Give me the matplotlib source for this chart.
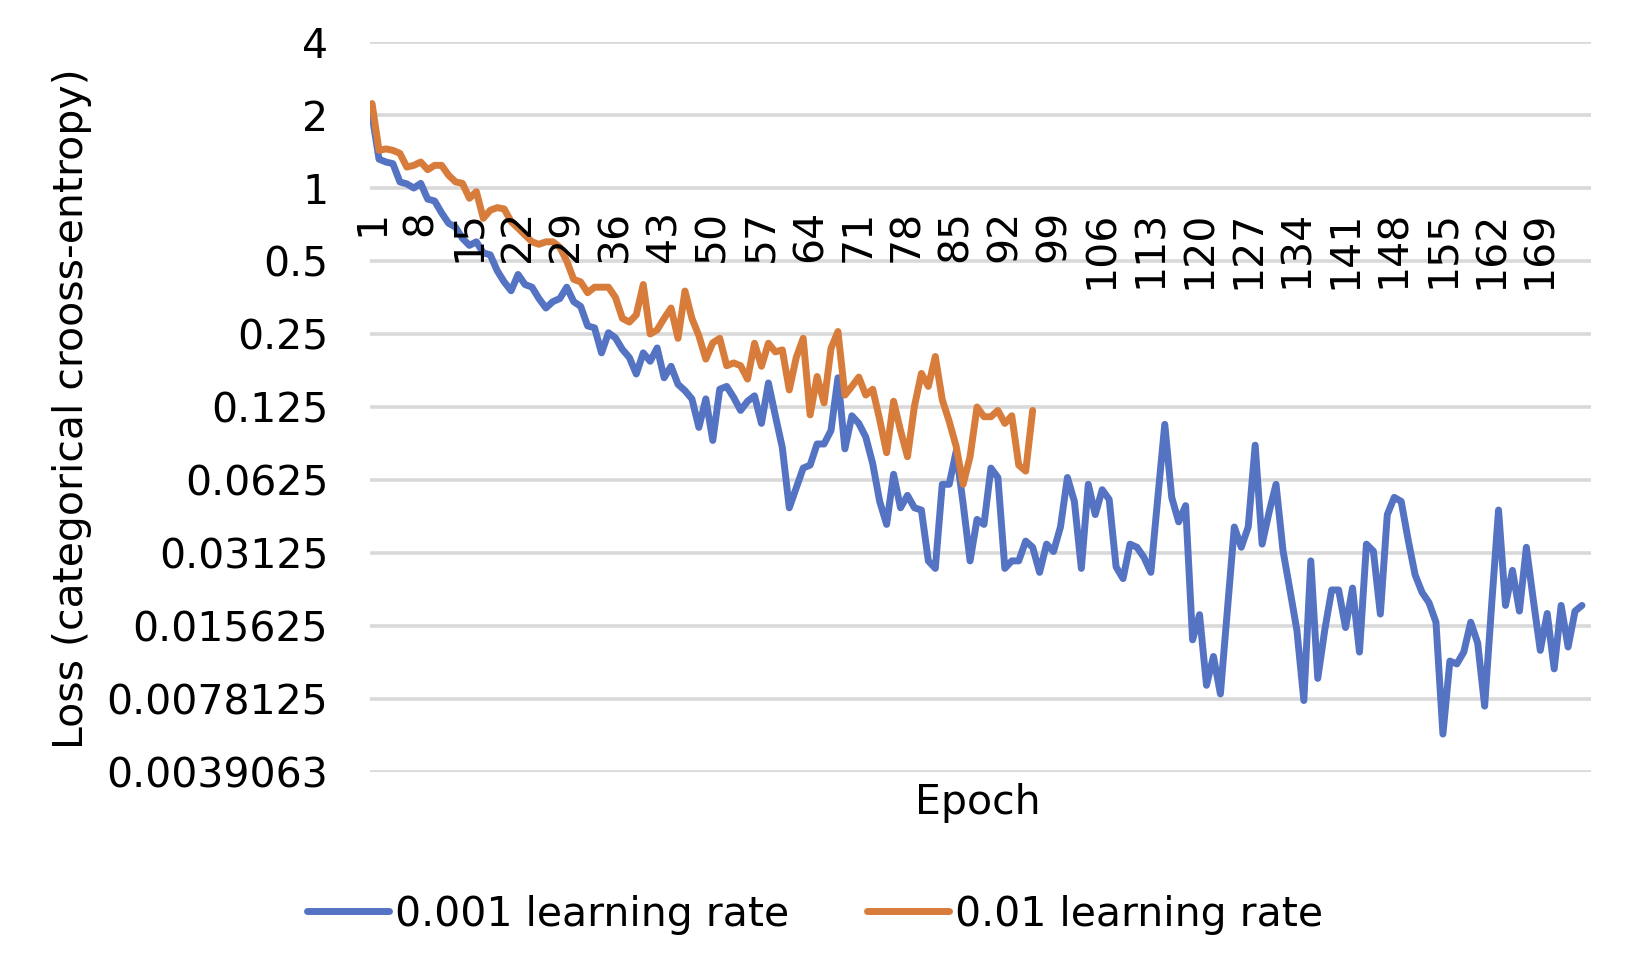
import matplotlib
matplotlib.use("Agg")
import matplotlib.pyplot as plt
import numpy as np

# loss per epoch
LOSS_LR_0001 = [
    2.0, 1.315, 1.28, 1.26, 1.06, 1.04, 1.0, 1.045, 0.90, 0.884,
    0.79, 0.716, 0.69, 0.62, 0.58, 0.60, 0.54, 0.53, 0.456, 0.41,
    0.377, 0.44, 0.40, 0.39, 0.35, 0.32, 0.34, 0.35, 0.39, 0.34,
    0.325, 0.27, 0.265, 0.209, 0.253, 0.241, 0.216, 0.20, 0.171, 0.209,
    0.193, 0.219, 0.165, 0.184, 0.155, 0.146, 0.135, 0.103, 0.135, 0.091,
    0.148, 0.152, 0.137, 0.121, 0.132, 0.139, 0.107, 0.157, 0.115, 0.085,
    0.048, 0.058, 0.070, 0.072, 0.088, 0.088, 0.10, 0.165, 0.084, 0.115,
    0.107, 0.094, 0.073, 0.051, 0.041, 0.066, 0.048, 0.054, 0.048, 0.047,
    0.029, 0.027, 0.060, 0.060, 0.082, 0.050, 0.029, 0.043, 0.041, 0.070,
    0.064, 0.027, 0.029, 0.029, 0.035, 0.033, 0.026, 0.034, 0.0317, 0.040,
    0.064, 0.051, 0.027, 0.060, 0.045, 0.057, 0.052, 0.0274, 0.0245, 0.034,
    0.033, 0.030, 0.026, 0.053, 0.106, 0.053, 0.042, 0.049, 0.0137, 0.0174,
    0.0089, 0.0117, 0.0082, 0.018, 0.040, 0.033, 0.040, 0.087, 0.034, 0.046,
    0.060, 0.032, 0.022, 0.015, 0.0077, 0.029, 0.0095, 0.015, 0.022, 0.022,
    0.0154, 0.0224, 0.0122, 0.034, 0.0318, 0.0175, 0.045, 0.053, 0.051, 0.0354,
    0.0254, 0.0215, 0.0195, 0.0162, 0.0056, 0.0112, 0.0109, 0.0122, 0.0162, 0.0133,
    0.0073, 0.019, 0.047, 0.019, 0.0265, 0.018, 0.033, 0.020, 0.0124, 0.0176,
    0.0104, 0.019, 0.0128, 0.018, 0.019,
]

LOSS_LR_001 = [
    2.23, 1.43, 1.45, 1.43, 1.39, 1.22, 1.24, 1.28, 1.19, 1.24,
    1.24, 1.13, 1.06, 1.045, 0.907, 0.966, 0.75, 0.81, 0.83, 0.82,
    0.727, 0.683, 0.64, 0.60, 0.586, 0.60, 0.60, 0.57, 0.50, 0.42,
    0.41, 0.37, 0.39, 0.39, 0.39, 0.354, 0.29, 0.28, 0.30, 0.40,
    0.25, 0.26, 0.29, 0.32, 0.24, 0.376, 0.29, 0.246, 0.197, 0.23,
    0.24, 0.185, 0.19, 0.185, 0.163, 0.229, 0.184, 0.229, 0.211, 0.215,
    0.147, 0.20, 0.24, 0.116, 0.167, 0.13, 0.218, 0.256, 0.14, 0.152,
    0.166, 0.14, 0.148, 0.111, 0.081, 0.132, 0.10, 0.078, 0.126, 0.172,
    0.152, 0.202, 0.134, 0.109, 0.086, 0.060, 0.078, 0.125, 0.114, 0.114,
    0.121, 0.107, 0.115, 0.072, 0.068, 0.121,
]

SERIES_NAMES = ["0.001 learning rate", "0.01 learning rate"]
SERIES_COLORS = ["#5573C3", "#D77C3A"]

Y_TICKS = [4, 2, 1, 0.5, 0.25, 0.125, 0.0625, 0.03125, 0.015625,
           0.0078125, 0.00390625]
Y_TICK_LABELS = ["4", "2", "1", "0.5", "0.25", "0.125", "0.0625", "0.03125",
                 "0.015625", "0.0078125", "0.0039063"]
X_TICK_STEP = 7

FS = 29.5
LW = 5.0

plt.rcParams["font.family"] = ["DejaVu Sans"]

fig = plt.figure(figsize=(16.33, 9.75), dpi=100)
ax = fig.add_axes([0.2266, 0.2082, 0.7477, 0.7487])

epochs_a = np.arange(1, len(LOSS_LR_0001) + 1)
epochs_b = np.arange(1, len(LOSS_LR_001) + 1)

# horizontal axis crosses at 1 (log axis) - set before tick styling
ax.spines["bottom"].set_position(("data", 1))
for s in ax.spines.values():
    s.set_visible(False)

# gridlines drawn under the data, tick labels drawn on top
for v in Y_TICKS:
    ax.axhline(v, color="#D9D9D9", lw=2.6, zorder=0)

l1, = ax.plot(epochs_a, LOSS_LR_0001, color=SERIES_COLORS[0], lw=LW,
              solid_joinstyle="round", solid_capstyle="round", zorder=2)
l2, = ax.plot(epochs_b, LOSS_LR_001, color=SERIES_COLORS[1], lw=LW,
              solid_joinstyle="round", solid_capstyle="round", zorder=2)

ax.set_yscale("log", base=2)
ax.set_ylim(Y_TICKS[-1], Y_TICKS[0])
ax.set_xlim(0.71, 176.3)
ax.set_yticks(Y_TICKS)
ax.set_yticklabels(Y_TICK_LABELS)
ax.minorticks_off()

xt = epochs_a[::X_TICK_STEP]
ax.set_xticks(xt)
ax.set_xticklabels([str(e) for e in xt])
ax.set_axisbelow(False)
ax.tick_params(axis="x", length=0, pad=16, labelsize=FS, labelrotation=90)
ax.tick_params(axis="y", length=0, pad=30, labelsize=FS)
for lab in ax.get_xticklabels():
    lab.set_va("top")
    lab.set_ha("center")

fig.text(0.599, 0.176, "Epoch", ha="center", va="center", fontsize=FS)
fig.text(0.044, 0.581, "Loss (categorical crooss-entropy)", rotation=90,
         ha="center", va="center", fontsize=FS)

fig.legend([l1, l2], SERIES_NAMES, loc="center", bbox_to_anchor=(0.499, 0.062),
           ncol=2, frameon=False, fontsize=FS, handlelength=2.0,
           handletextpad=0.15, columnspacing=1.9)

fig.savefig("out.png", dpi=100)
